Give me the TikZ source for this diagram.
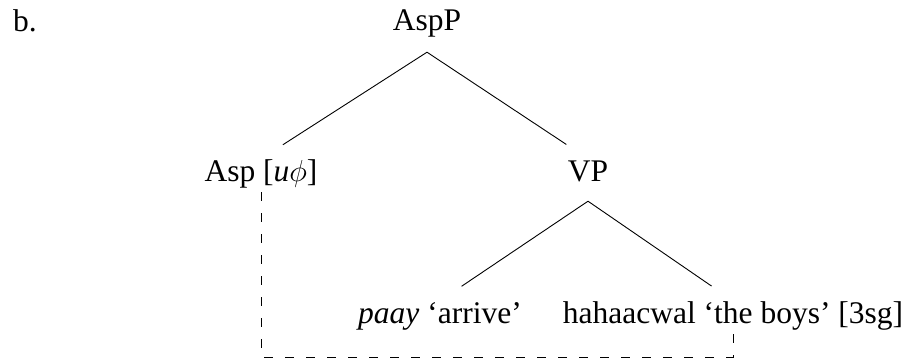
\documentclass[tikz,border=0pt]{standalone}
\usepackage{fontspec}
\setmainfont{Liberation Serif}
\newcommand{\featphi}{\raisebox{-0.02em}{\scalebox{1.22}{$\phi$}}}
\begin{document}
\begin{tikzpicture}[x=1pt,y=1pt,
  lbl/.style={inner sep=0pt, anchor=base, text height=22pt, text depth=7pt,
              font=\fontsize{31.5}{38}\selectfont},
  branch/.style={line width=0.9pt, shorten >=26pt},
  agree/.style={line width=0.9pt, dash pattern=on 9pt off 12pt}]
  \useasboundingbox (0,0) rectangle (909,360);
  % example label
  \node[lbl, anchor=base west] (ex) at (13,329) {b.};
  % tree nodes
  \node[lbl] (AspP) at (427,330) {AspP};
  \node[lbl] (Asp)  at (261,179) {Asp [\textit{u}\featphi]};
  \node[lbl] (VP)   at (588,179) {VP};
  \node[lbl] (V)    at (440,37)  {\textit{paay} ‘arrive’};
  \node[lbl] (DP)   at (733,37)  {hahaacwal ‘the boys’ [3sg]};
  % branches, each pair meeting just below its mother
  \draw[branch] ([yshift=-15pt]AspP.south) -- (Asp.north);
  \draw[branch] ([yshift=-15pt]AspP.south) -- (VP.north);
  \draw[branch] ([yshift=-13pt]VP.south) -- (V.north);
  \draw[branch] ([yshift=-13pt]VP.south) -- (DP.north);
  % agreement relation
  \coordinate (bot) at (0,3);
  \draw[agree] ([yshift=-4pt]Asp.south) -- (Asp.south |- bot) -- (DP.south |- bot)
    -- ([yshift=-2pt]DP.south);
\end{tikzpicture}
\end{document}
